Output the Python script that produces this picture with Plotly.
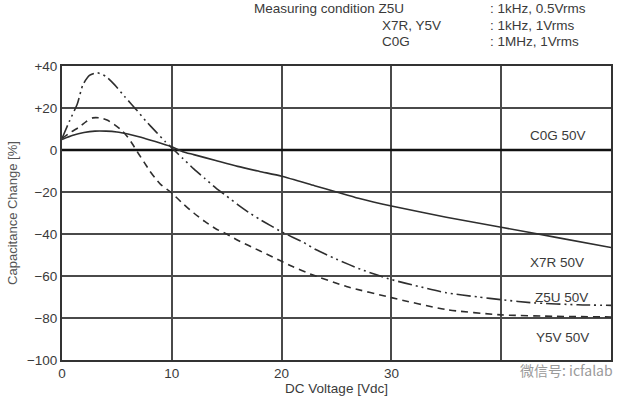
import plotly.graph_objects as go

# ---- data ----
x7r_v = [0, 1, 2, 3, 4, 5, 6, 7, 8, 9, 10, 11, 12, 14, 16, 18, 20, 23, 25, 27, 30, 35, 40, 45, 50]
x7r_c = [5, 7, 8.3, 9, 9, 8.6, 7.6, 6.3, 4.8, 3.2, 1.5, -0.8, -2.2, -5, -7.8, -10.2, -12.5,
         -17, -20, -23, -26.7, -32, -36.8, -41.6, -46.4]

z5u_v = [0, 0.7, 1.4, 1.9, 2.5, 3.2, 4, 4.8, 5.7, 6.8, 7.6, 8.5, 9.4, 10.1, 11, 12, 13, 14, 15,
         16, 17, 18, 19, 20, 22, 23.1, 25, 27.3, 30, 32.5, 35, 37.9, 40, 43, 47, 50]
z5u_c = [5.5, 14, 22, 31, 35.5, 36.8, 35, 31, 25.5, 19, 14, 9, 4, 0.5, -4, -9, -13.5, -18, -22,
         -26, -29.7, -33, -36, -39, -44, -47.4, -52, -57, -61.7, -65, -68, -70, -71.3, -72.8,
         -73.7, -74]

y5v_v = [0, 0.8, 1.6, 2.2, 2.8, 3.5, 4.1, 4.8, 5.5, 6, 6.4, 7, 7.5, 8, 8.5, 9, 10, 11, 12, 13,
         14, 15, 16, 17, 18, 19, 20, 21, 22.6, 25.9, 30, 35, 40, 45, 50]
y5v_c = [5.5, 8.5, 11, 13.5, 15.3, 15.3, 14.3, 12, 9, 6, 3, -2, -6, -10, -13.5, -16.5, -20.5,
         -25.5, -30, -34, -37.5, -40, -43, -45.5, -48, -50.5, -53, -55.5, -59, -65, -70.3, -76,
         -78.5, -79.2, -79.5]

c0g_v = [0, 50]
c0g_c = [0, 0]

x_ticks = [0, 10, 20, 30, 40, 50]
x_ticktext = ["0", "10", "20", "30", "", ""]
y_ticks = [40, 20, 0, -20, -40, -60, -80, -100]
y_ticktext = ["+40", "+20", "0", "\u221220", "\u221240", "\u221260", "\u221280", "\u2212100"]

series_labels = ["C0G 50V", "X7R 50V", "Z5U 50V", "Y5V 50V"]
label_x = [45.2, 45.1, 45.5, 45.6]
label_y = [6.7, -53.6, -70, -89.5]

condition_names = ["Measuring condition Z5U", "X7R, Y5V", "C0G"]
condition_values = [": 1kHz, 0.5Vrms", ": 1kHz, 1Vrms", ": 1MHz, 1Vrms"]

# ---- figure ----
W, H = 638, 399
L, R, T, B = 62, 27, 66, 39
PW, PH = W - L - R, H - T - B

def px(xs):  # screen pixel x -> paper
    return (xs - L) / PW

def py(ys):  # screen pixel y -> paper
    return (H - B - ys) / PH

FONT = "Liberation Sans, Arial, sans-serif"
TXT = "#3a3a3a"
LINE = "#2e2e2e"

fig = go.Figure()
fig.add_trace(go.Scatter(x=c0g_v, y=c0g_c, mode="lines",
                         line=dict(color="#111111", width=2.6), hoverinfo="skip"))
fig.add_trace(go.Scatter(x=x7r_v, y=x7r_c, mode="lines",
                         line=dict(color=LINE, width=1.6, shape="spline", smoothing=0.6)))
fig.add_trace(go.Scatter(x=z5u_v, y=z5u_c, mode="lines",
                         line=dict(color=LINE, width=1.6, shape="spline", smoothing=0.6,
                                   dash="14px,4px,2px,4px,2px,4px")))
fig.add_trace(go.Scatter(x=y5v_v, y=y5v_c, mode="lines",
                         line=dict(color=LINE, width=1.6, shape="spline", smoothing=0.6,
                                   dash="7px,5px")))

annotations = []
for t, xv, yv in zip(series_labels, label_x, label_y):
    annotations.append(dict(x=xv, y=yv, xref="x", yref="y", text=t, showarrow=False,
                            font=dict(family=FONT, size=13.5, color=TXT),
                            xanchor="center", yanchor="middle"))

row_y = [9, 25.5, 42]
name_x = [252, 380, 380]
for i in range(3):
    annotations.append(dict(x=px(name_x[i]), y=py(row_y[i]), xref="paper", yref="paper",
                            text=condition_names[i], showarrow=False,
                            font=dict(family=FONT, size=13.5, color=TXT),
                            xanchor="left", yanchor="middle"))
    annotations.append(dict(x=px(488), y=py(row_y[i]), xref="paper", yref="paper",
                            text=condition_values[i], showarrow=False,
                            font=dict(family=FONT, size=13.5, color=TXT),
                            xanchor="left", yanchor="middle"))

annotations.append(dict(x=px(566), y=py(370), xref="paper", yref="paper",
                        text="微信号: icfalab", showarrow=False,
                        font=dict(family="Noto Sans CJK SC, sans-serif", size=14, color="#9a9a9a"),
                        xanchor="center", yanchor="middle"))

fig.update_layout(
    width=W, height=H,
    margin=dict(l=L, r=R, t=T, b=B, pad=0, autoexpand=False),
    paper_bgcolor="white", plot_bgcolor="white",
    showlegend=False,
    hovermode=False,
    font=dict(family=FONT, size=13, color=TXT),
    annotations=annotations,
    xaxis=dict(range=[0, 50], tickvals=x_ticks, ticktext=x_ticktext, automargin=False,
               showgrid=True, gridcolor="#4a4a4a", gridwidth=1.5,
               showline=True, linecolor="#333333", linewidth=2, mirror=True,
               zeroline=False, ticks="", ticklen=0,
               tickfont=dict(family=FONT, size=13.5, color=TXT),
               title=dict(text="DC Voltage [Vdc]", standoff=1,
                          font=dict(family=FONT, size=13.5, color=TXT))),
    yaxis=dict(range=[-100, 40], tickvals=y_ticks, ticktext=y_ticktext, automargin=False,
               showgrid=True, gridcolor="#4a4a4a", gridwidth=1.5,
               showline=True, linecolor="#333333", linewidth=2, mirror=True,
               zeroline=False, ticks="", ticklen=0,
               tickfont=dict(family=FONT, size=13.5, color=TXT),
               title=dict(text="Capacitance Change [%]", standoff=6,
                          font=dict(family=FONT, size=13, color="#555555"))),
)

# remove the default 8px page margin so the figure sits at the window's top-left corner
fig.write_html("out.html",
               config={"displayModeBar": False},
               post_script="document.body.style.margin='0';document.body.style.overflow='hidden';")
